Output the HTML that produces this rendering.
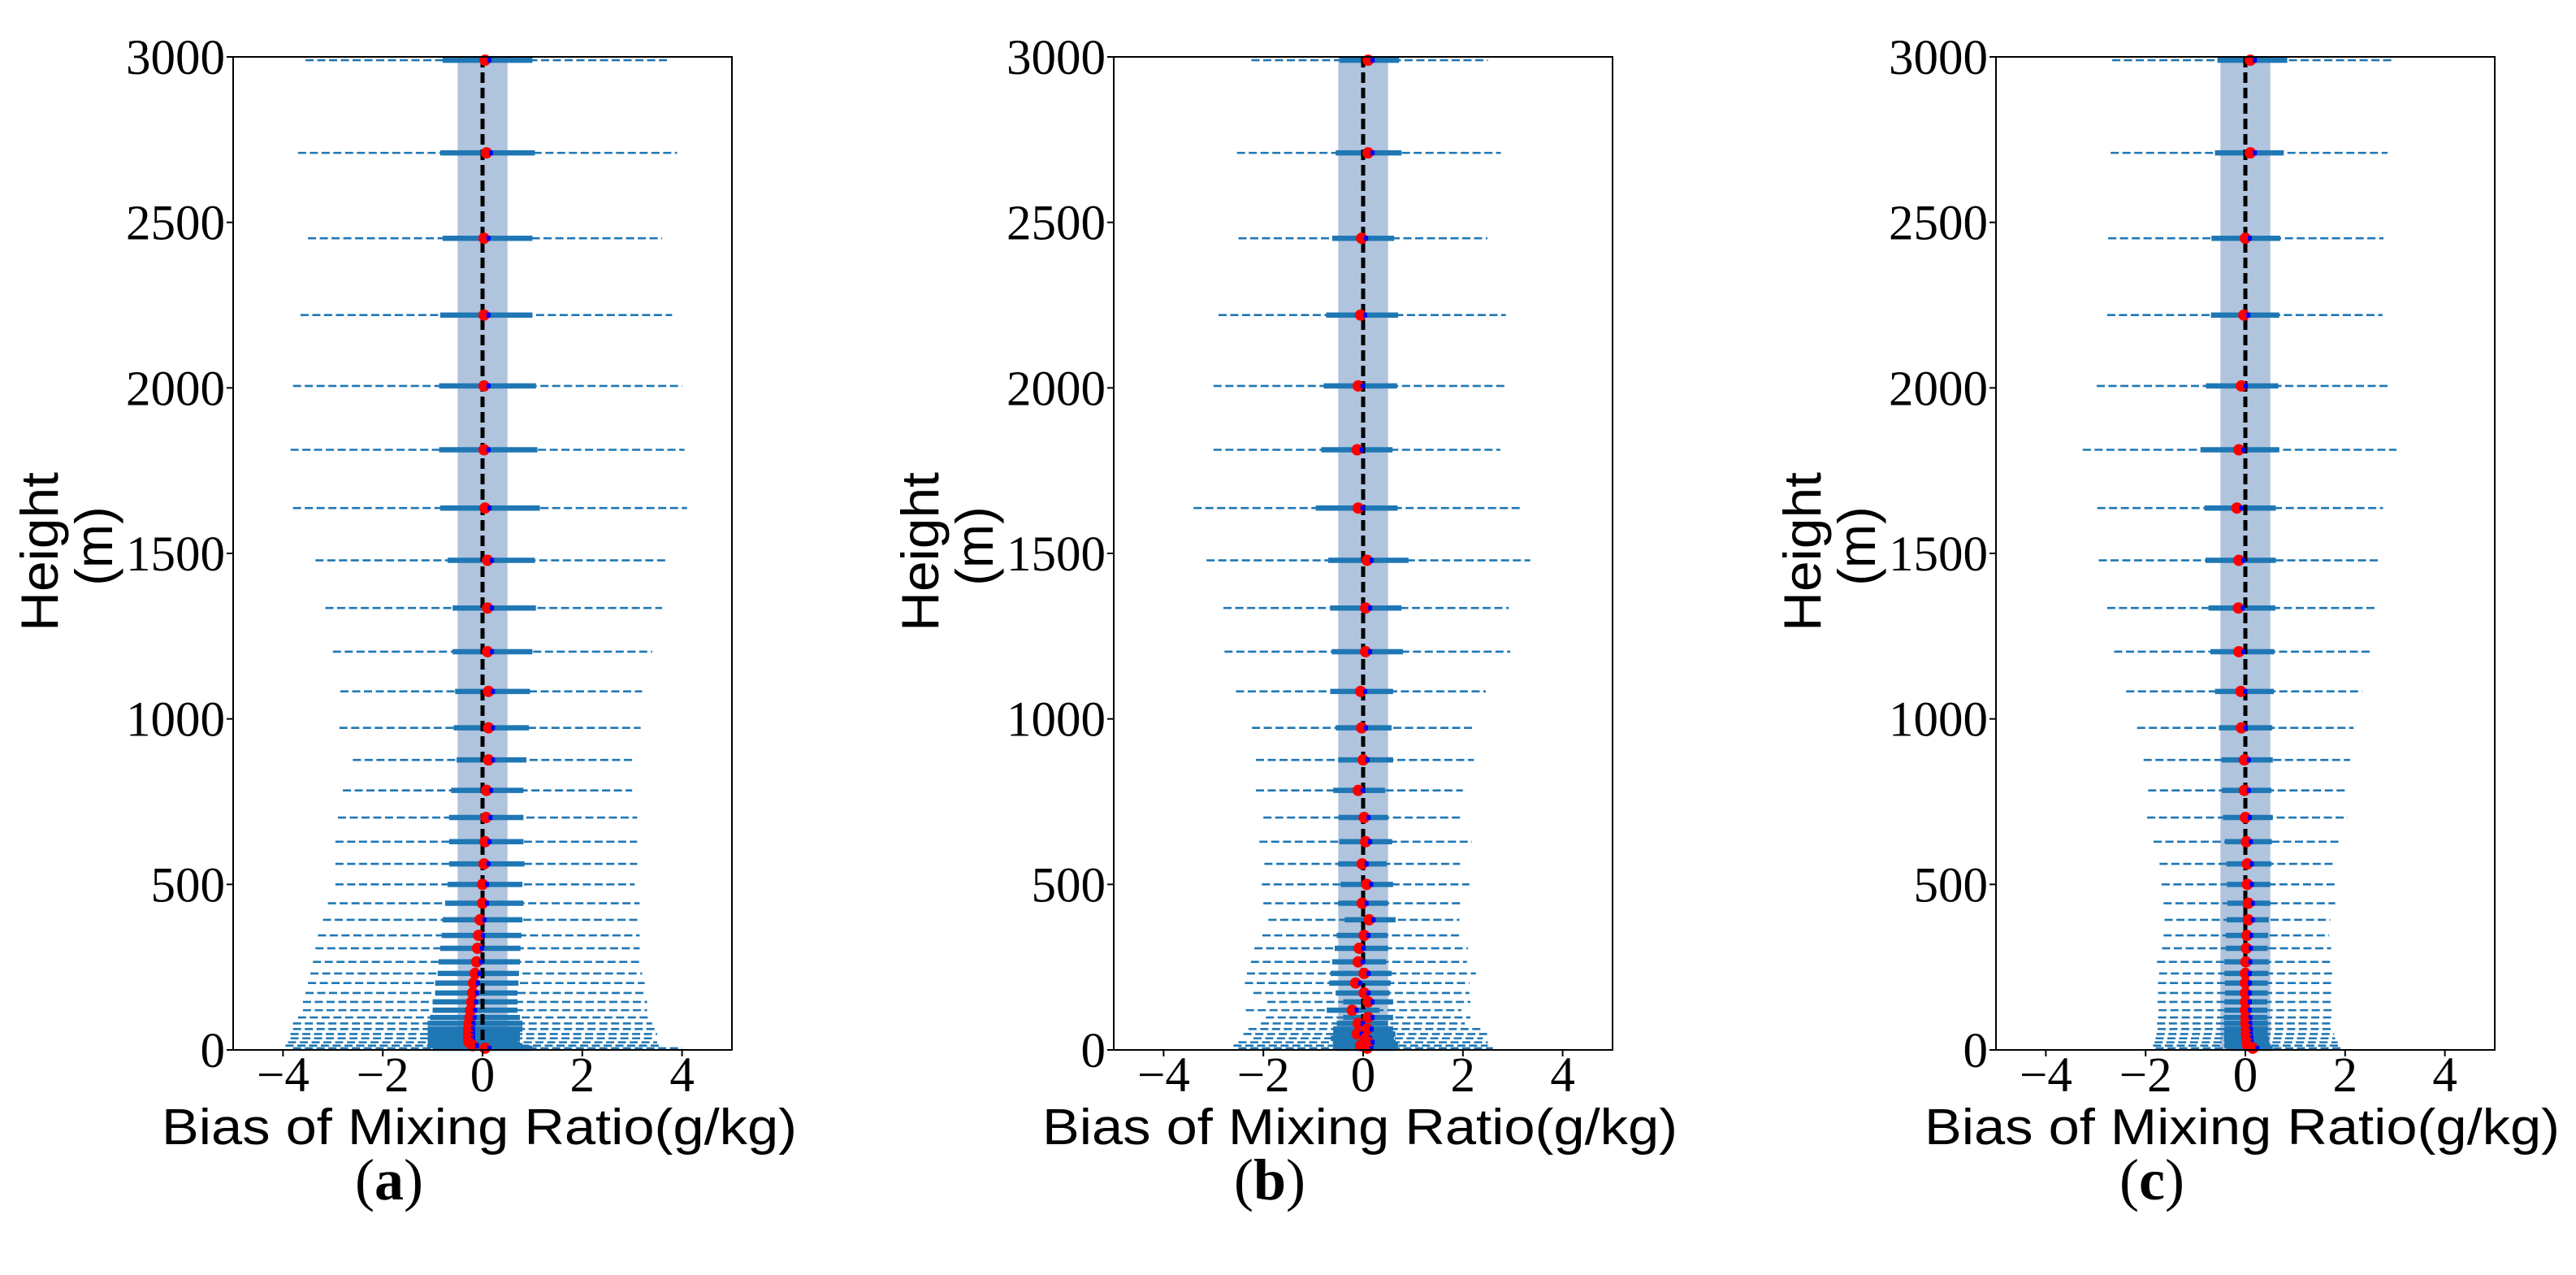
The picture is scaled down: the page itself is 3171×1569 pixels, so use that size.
<!DOCTYPE html>
<html><head><meta charset="utf-8"><style>
html,body{margin:0;padding:0;background:#fff;}
svg{display:block;}
</style></head><body>
<svg id="fig" width="3171" height="1569" viewBox="0 0 3171 1569" xmlns="http://www.w3.org/2000/svg"></svg>
<script>
// ---- data ----
const heights = [2990,2710,2452,2220,2006,1813,1637,1479,1335,1203,1083,973,876,784,702,629,562,500,443,393,346,307,266,231,202,172,145,120,98,80,63,48,35,23,13,5];
const xTicks = [-4,-2,0,2,4];
const yTicks = [0,500,1000,1500,2000,2500,3000];
const panelLabels = ["(a)","(b)","(c)"];

const aLo  = [-3.55,-3.7,-3.5,-3.65,-3.8,-3.85,-3.8,-3.35,-3.15,-3.0,-2.85,-2.87,-2.6,-2.8,-2.9,-2.95,-2.95,-2.95,-3.1,-3.2,-3.3,-3.35,-3.4,-3.45,-3.5,-3.55,-3.6,-3.6,-3.7,-3.8,-3.8,-3.85,-3.85,-3.9,-3.95,-3.8];
const aHi  = [3.75,3.9,3.6,3.8,4.0,4.05,4.1,3.7,3.6,3.4,3.2,3.17,3.0,3.0,3.1,3.1,3.1,3.05,3.15,3.15,3.15,3.15,3.2,3.2,3.25,3.25,3.3,3.3,3.35,3.4,3.45,3.5,3.45,3.5,3.6,4.0];
const aBLo = [-0.8,-0.85,-0.8,-0.85,-0.87,-0.87,-0.85,-0.7,-0.6,-0.6,-0.55,-0.58,-0.52,-0.63,-0.67,-0.67,-0.67,-0.7,-0.75,-0.8,-0.82,-0.85,-0.88,-0.9,-0.95,-0.95,-1.0,-1.0,-1.05,-1.1,-1.1,-1.1,-1.1,-1.1,-1.1,-1.0];
const aBHi = [1.0,1.05,1.0,1.0,1.07,1.1,1.15,1.05,1.07,1.0,0.95,0.93,0.88,0.82,0.82,0.82,0.84,0.8,0.82,0.8,0.78,0.76,0.75,0.73,0.72,0.7,0.7,0.7,0.75,0.8,0.8,0.75,0.75,0.7,0.8,1.0];
const aMean= [0.05,0.08,0.03,0.03,0.03,0.03,0.05,0.1,0.1,0.1,0.12,0.12,0.12,0.08,0.07,0.05,0.03,0.0,0.0,-0.05,-0.08,-0.1,-0.12,-0.15,-0.18,-0.2,-0.22,-0.24,-0.25,-0.27,-0.28,-0.28,-0.28,-0.27,-0.2,0.05];

const bLo  = [-2.24,-2.53,-2.5,-2.9,-3.0,-3.0,-3.4,-3.14,-2.8,-2.78,-2.55,-2.23,-2.15,-2.15,-2.0,-2.08,-1.98,-2.03,-2.0,-1.9,-2.02,-2.18,-2.25,-2.33,-2.37,-2.2,-1.92,-2.35,-1.95,-2.05,-2.3,-2.4,-2.2,-2.5,-2.6,-2.5];
const bHi  = [2.5,2.76,2.49,2.86,2.85,2.75,3.14,3.35,2.92,2.95,2.46,2.24,2.22,2.0,1.95,2.18,1.94,2.13,2.0,1.93,1.93,2.1,2.08,2.26,2.13,2.13,2.15,1.97,2.15,2.04,2.4,2.5,2.4,2.5,2.5,2.6];
const bBLo = [-0.47,-0.55,-0.62,-0.74,-0.79,-0.84,-0.95,-0.7,-0.66,-0.63,-0.66,-0.55,-0.5,-0.6,-0.49,-0.48,-0.5,-0.45,-0.5,-0.37,-0.53,-0.57,-0.62,-0.65,-0.68,-0.55,-0.4,-0.73,-0.4,-0.53,-0.6,-0.6,-0.65,-0.6,-0.6,-0.55];
const bBHi = [0.72,0.77,0.62,0.7,0.68,0.59,0.69,0.91,0.77,0.8,0.6,0.57,0.6,0.44,0.5,0.58,0.47,0.6,0.5,0.65,0.49,0.5,0.46,0.57,0.55,0.53,0.6,0.33,0.6,0.5,0.6,0.65,0.62,0.65,0.7,0.65];
const bMean= [0.1,0.1,-0.03,-0.05,-0.1,-0.12,-0.1,0.08,0.05,0.05,-0.05,-0.03,0.0,-0.1,0.02,0.05,-0.02,0.07,-0.02,0.12,0.02,-0.08,-0.1,0.02,-0.15,0.02,0.1,-0.22,0.1,-0.1,0.08,-0.12,0.05,0.1,-0.05,0.08];

const cLo  = [-2.67,-2.7,-2.75,-2.77,-2.98,-3.26,-2.97,-2.94,-2.77,-2.63,-2.39,-2.17,-2.04,-1.95,-1.97,-1.84,-1.72,-1.68,-1.64,-1.62,-1.64,-1.67,-1.77,-1.73,-1.75,-1.75,-1.76,-1.74,-1.75,-1.77,-1.76,-1.78,-1.8,-1.82,-1.85,-1.8];
const cHi  = [2.96,2.85,2.77,2.75,2.85,3.03,2.76,2.72,2.62,2.51,2.34,2.17,2.1,2.0,2.05,1.89,1.82,1.84,1.8,1.7,1.68,1.72,1.77,1.77,1.75,1.74,1.75,1.73,1.72,1.74,1.75,1.78,1.8,1.85,1.9,1.95];
const cBLo = [-0.56,-0.61,-0.68,-0.69,-0.79,-0.9,-0.82,-0.8,-0.74,-0.7,-0.61,-0.53,-0.48,-0.47,-0.45,-0.41,-0.38,-0.37,-0.36,-0.37,-0.39,-0.39,-0.42,-0.42,-0.41,-0.41,-0.42,-0.42,-0.43,-0.43,-0.42,-0.43,-0.43,-0.42,-0.42,-0.3];
const cBHi = [0.84,0.77,0.7,0.68,0.66,0.68,0.61,0.61,0.6,0.58,0.57,0.54,0.55,0.52,0.55,0.53,0.52,0.5,0.5,0.47,0.46,0.45,0.47,0.46,0.45,0.45,0.44,0.44,0.44,0.45,0.45,0.45,0.46,0.47,0.5,0.55];
const cMean= [0.1,0.1,0.0,-0.03,-0.08,-0.13,-0.17,-0.13,-0.14,-0.13,-0.09,-0.08,-0.02,-0.02,0.0,0.02,0.04,0.04,0.06,0.06,0.03,0.02,0.01,0.0,0.0,0.0,0.0,0.0,0.01,0.01,0.02,0.02,0.03,0.04,0.05,0.15];

const panels = [
  {left:287, lo:aLo, hi:aHi, blo:aBLo, bhi:aBHi, mean:aMean},
  {left:1371, lo:bLo, hi:bHi, blo:bBLo, bhi:bBHi, mean:bMean},
  {left:2457, lo:cLo, hi:cHi, blo:cBLo, bhi:cBHi, mean:cMean}
];
const W = 614, TOP = 70, BOT = 1292;
const NS = "http://www.w3.org/2000/svg";
const svg = document.getElementById('fig');
function mk(tag, attrs, parent){
  const e = document.createElementNS(NS, tag);
  for (const k in attrs) e.setAttribute(k, attrs[k]);
  (parent||svg).appendChild(e);
  return e;
}
panels.forEach((p, pi) => {
  const x = v => p.left + (v + 5) / 10 * W;
  const y = h => BOT - h / 3000 * (BOT - TOP);
  const g = mk('g', {});
  
  
  const band = mk('rect', {x:x(-0.5), y:TOP, width:x(0.5)-x(-0.5), height:BOT-TOP, fill:'#b0c4de'}, g);
  
  
  heights.forEach((h, i) => {
    const yy = y(h);
    const d = mk('line', {x1:x(p.lo[i]), x2:x(p.hi[i]), y1:yy, y2:yy, stroke:'#1f77b4', 'stroke-width':2.6, 'stroke-dasharray':'10,4.5'}, g);
    
    
    const b = mk('line', {x1:x(p.blo[i]), x2:x(p.bhi[i]), y1:yy, y2:yy, stroke:'#1f77b4', 'stroke-width':6.5}, g);
    
    
  });
  const zl = mk('line', {x1:x(0), x2:x(0), y1:TOP, y2:BOT, stroke:'#000', 'stroke-width':5, 'stroke-dasharray':'13,6'}, g);
  
  
  heights.forEach((h, i) => {
    const c = mk('circle', {cx:x(p.mean[i]), cy:y(h), r:7, fill:'#ff0000'}, g);
    
    
    const s = mk('rect', {x:x(p.mean[i])+3, y:y(h)-3, width:5, height:6, fill:'#0000ff'}, g);
    
    
  });
  const fr = mk('rect', {x:p.left, y:TOP, width:W, height:BOT-TOP, fill:'none', stroke:'#000', 'stroke-width':2}, g);
  
  
  xTicks.forEach(v => {
    const t = mk('line', {x1:x(v), x2:x(v), y1:BOT, y2:BOT+8, stroke:'#000', 'stroke-width':2}, g);
    
    
    const l = mk('text', {x:x(v), y:1343, 'text-anchor':'middle', 'font-family':'Liberation Serif, serif', 'font-size':61}, g);
    l.textContent = v < 0 ? '\u2212' + Math.abs(v) : String(v);
    
    
  });
  yTicks.forEach(v => {
    const t = mk('line', {x1:p.left-8, x2:p.left, y1:y(v), y2:y(v), stroke:'#000', 'stroke-width':2}, g);
    
    
    const l = mk('text', {x:p.left-10, y:y(v)+21, 'text-anchor':'end', 'font-family':'Liberation Serif, serif', 'font-size':61}, g);
    l.textContent = String(v);
    
    
  });
  const xl = mk('text', {x:p.left+W/2-4, y:1408, 'text-anchor':'middle', 'font-family':'Liberation Sans, sans-serif', 'font-size':62, textLength:782, lengthAdjust:'spacingAndGlyphs'}, g);
  xl.textContent = 'Bias of Mixing Ratio(g/kg)';
  
  
  const yl1 = mk('text', {transform:`translate(${p.left-216},679) rotate(-90)`, 'text-anchor':'middle', 'font-family':'Liberation Sans, sans-serif', 'font-size':65, textLength:196, lengthAdjust:'spacingAndGlyphs'}, g);
  yl1.textContent = 'Height';
  
  
  const yl2 = mk('text', {transform:`translate(${p.left-149},672) rotate(-90)`, 'text-anchor':'middle', 'font-family':'Liberation Sans, sans-serif', 'font-size':65}, g);
  yl2.textContent = '(m)';
  
  
  const pl = mk('text', {x:p.left+192, y:1476, 'text-anchor':'middle', 'font-family':'Liberation Serif, serif', 'font-size':72}, g);
  pl.innerHTML = '(<tspan font-weight="bold">' + panelLabels[pi].slice(1,2) + '</tspan>)';
  
  
});
</script>
</body></html>
